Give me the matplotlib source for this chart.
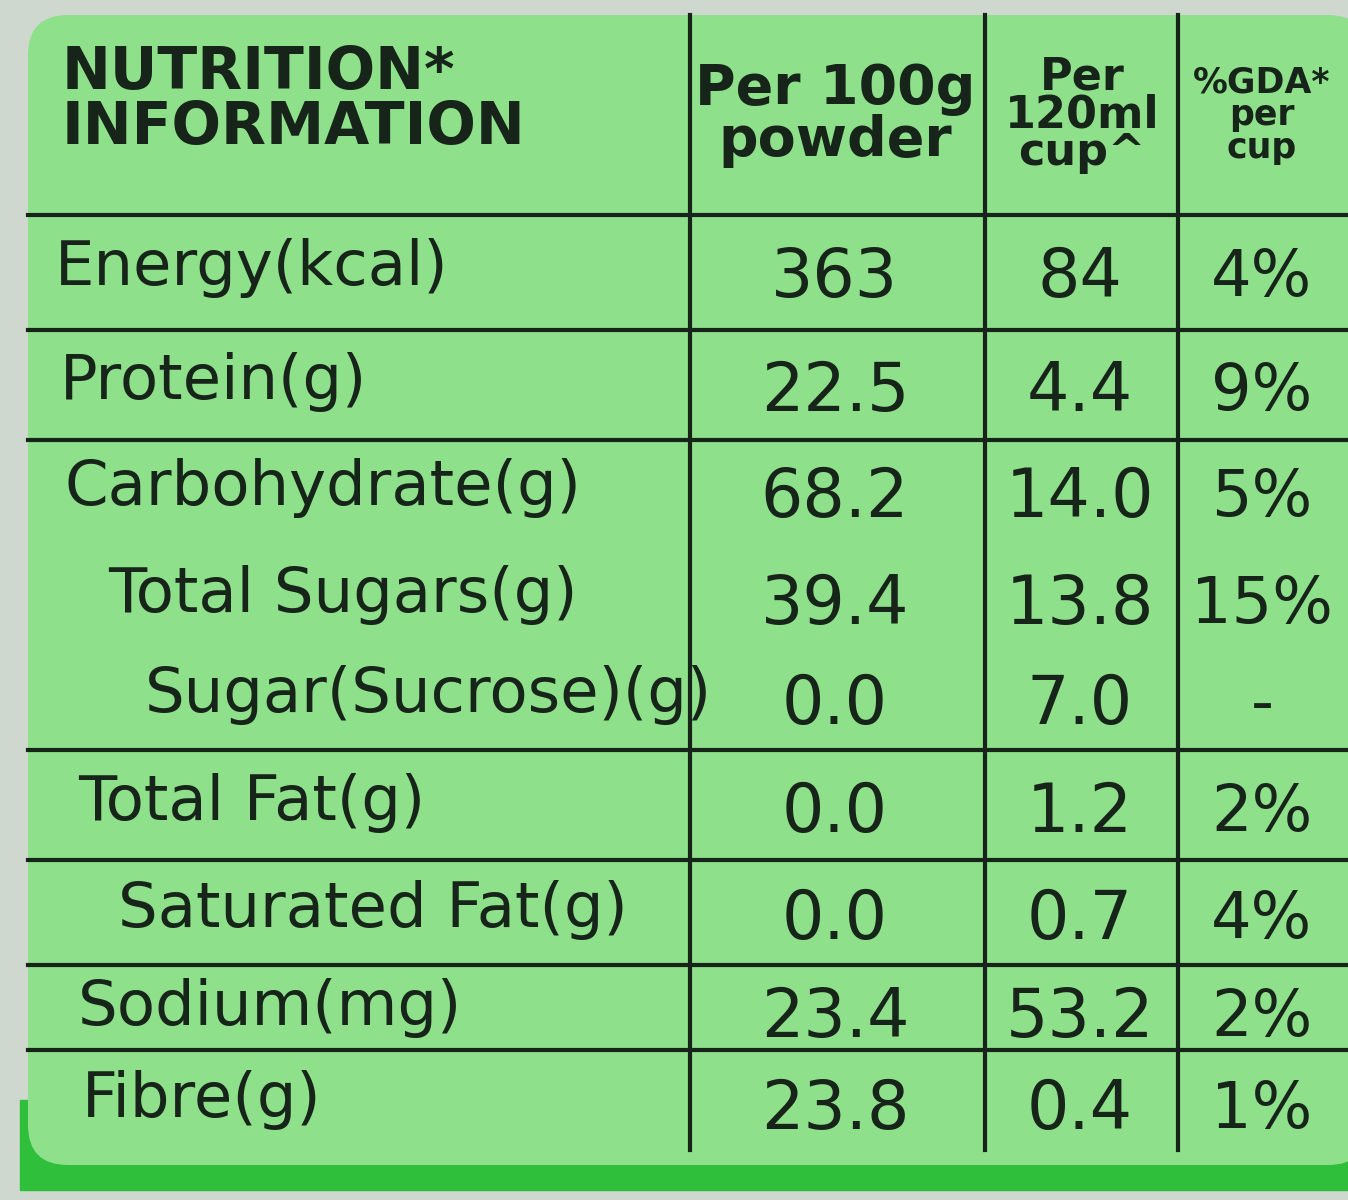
import matplotlib.pyplot as plt
from matplotlib.patches import FancyBboxPatch, Rectangle

nutrients = ["Energy(kcal)", "Protein(g)", "Carbohydrate(g)", "Total Sugars(g)",
             "Sugar(Sucrose)(g)", "Total Fat(g)", "Saturated Fat(g)", "Sodium(mg)", "Fibre(g)"]
per_100g = ["363", "22.5", "68.2", "39.4", "0.0", "0.0", "0.0", "23.4", "23.8"]
per_cup = ["84", "4.4", "14.0", "13.8", "7.0", "1.2", "0.7", "53.2", "0.4"]
gda = ["4%", "9%", "5%", "15%", "-", "2%", "4%", "2%", "1%"]

# layout in pixel units
indent = [55, 60, 65, 108, 145, 78, 118, 78, 82]
row_y = [268, 382, 488, 595, 695, 803, 910, 1008, 1100]
hlines = [215, 330, 440, 750, 860, 965, 1050]
vlines = [690, 985, 1178]

ink = "#17241a"
fam = ["DejaVu Sans"]

fig = plt.figure(figsize=(13.48, 12), dpi=100)
ax = fig.add_axes([0, 0, 1, 1])
ax.set_xlim(0, 1348)
ax.set_ylim(1200, 0)
ax.axis("off")
fig.patch.set_facecolor("#cfd8cf")

ax.add_patch(Rectangle((20, 1100), 1328, 90, color="#2fbf3a"))
ax.add_patch(FancyBboxPatch((28, 15), 1340, 1150, boxstyle="round,pad=0,rounding_size=40",
                            fc="#8fe08a", ec="none"))

for y in hlines:
    ax.plot([28, 1348], [y, y], color=ink, lw=3)
for x in vlines:
    ax.plot([x, x], [15, 1150], color=ink, lw=3)

ax.text(62, 100, "NUTRITION*\nINFORMATION", fontsize=42, fontweight="bold", family=fam,
        color=ink, va="center", ha="left", linespacing=0.95)
ax.text(835, 115, "Per 100g\npowder", fontsize=40, fontweight="bold", family=fam,
        color=ink, va="center", ha="center", linespacing=0.95)
ax.text(1082, 115, "Per\n120ml\ncup^", fontsize=32, fontweight="bold", family=fam,
        color=ink, va="center", ha="center", linespacing=0.85)
ax.text(1262, 115, "%GDA*\nper\ncup", fontsize=25, fontweight="bold", family=fam,
        color=ink, va="center", ha="center", linespacing=0.95)

for i, name in enumerate(nutrients):
    y = row_y[i]
    ax.text(indent[i], y, name, fontsize=45, family=fam, color=ink, va="center", ha="left")
    ax.text(835, y + 10, per_100g[i], fontsize=48, family=fam, color=ink, va="center", ha="center")
    ax.text(1080, y + 10, per_cup[i], fontsize=48, family=fam, color=ink, va="center", ha="center")
    ax.text(1262, y + 10, gda[i], fontsize=46, family=fam, color=ink, va="center", ha="center")

fig.savefig("out.png", dpi=100)
